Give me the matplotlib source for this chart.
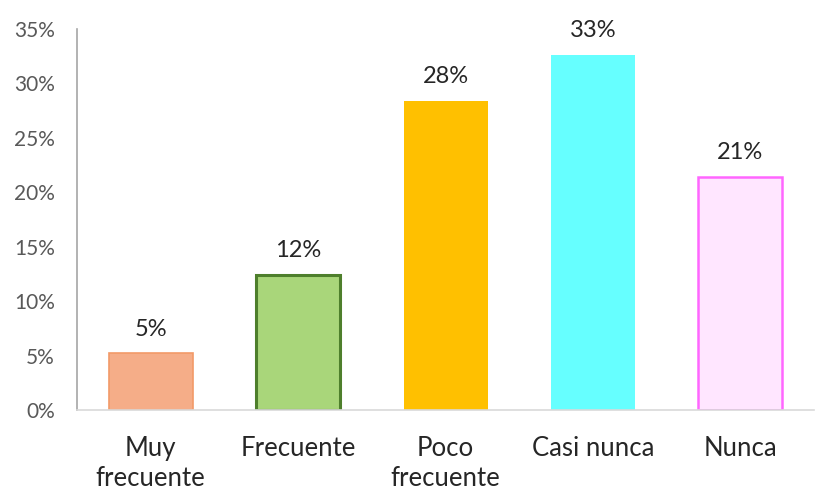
import matplotlib
matplotlib.use("Agg")
import matplotlib.pyplot as plt
from matplotlib.ticker import MultipleLocator, FuncFormatter

plt.rcParams['font.family'] = ['Lato', 'DejaVu Sans']

categories = ["Muy\nfrecuente", "Frecuente", "Poco\nfrecuente", "Casi nunca", "Nunca"]
values = [5.2, 12.4, 28.4, 32.6, 21.4]
fill_colors = ["#F5AD88", "#A9D67A", "#FFC000", "#66FFFF", "#FFE6FF"]
edge_colors = ["#F29A68", "#4E7F2C", "#FFC000", "#66FFFF", "#FF66FF"]
edge_widths = [1.2, 2.2, 0.0, 0.0, 1.8]

fig = plt.figure(figsize=(8.19, 4.96), dpi=100)
ax = fig.add_axes([0.094, 0.1734, 0.900, 0.768])

x = range(len(categories))
bars = ax.bar(x, values, width=0.57, color=fill_colors,
              edgecolor=edge_colors, linewidth=edge_widths, zorder=2)

for rect, v in zip(bars, values):
    ax.annotate(f"{v:.0f}%", (rect.get_x() + rect.get_width() / 2, v),
                xytext=(0, 10), textcoords="offset points",
                ha="center", va="bottom", fontsize=17, color="#262626")

ax.set_xlim(-0.5, len(categories) - 0.5)
ax.set_ylim(0, 35)
ax.yaxis.set_major_locator(MultipleLocator(5))
ax.yaxis.set_major_formatter(FuncFormatter(lambda y, _: f"{y:.0f}%"))

ax.set_xticks(list(x))
ax.set_xticklabels(categories, fontsize=18.5, color="#262626", linespacing=1.25)
ax.tick_params(axis="x", length=0, pad=19)
ax.tick_params(axis="y", length=0, pad=16, labelsize=15, labelcolor="#595959")

for side in ("top", "right"):
    ax.spines[side].set_visible(False)
ax.spines["left"].set_color("#A6A6A6")
ax.spines["left"].set_linewidth(1.2)
ax.spines["bottom"].set_color("#D9D9D9")
ax.spines["bottom"].set_linewidth(1.2)

fig.savefig("out.png", dpi=100, facecolor="white")
